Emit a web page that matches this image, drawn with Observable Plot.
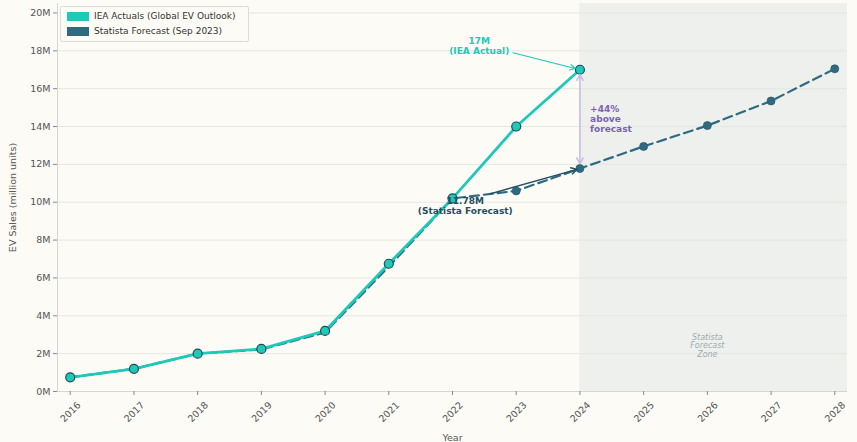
<!DOCTYPE html>
<html><head><meta charset="utf-8">
<script src="https://cdn.jsdelivr.net/npm/d3@7"></script>
<script src="https://cdn.jsdelivr.net/npm/@observablehq/plot@0.6"></script>
<style>
body{margin:0;background:#fcfbf6;font-family:"DejaVu Sans",sans-serif;}
#wrap{position:relative;width:857px;height:442px;}
#legend{position:absolute;left:60px;top:6px;width:187px;height:34px;border:1px solid #dcdcdc;border-radius:2px;background:rgba(252,251,246,0.9);font-size:9px;color:#333;white-space:nowrap;}
.li{position:absolute;left:6px;display:flex;align-items:center;white-space:nowrap;}
.sw{width:22px;height:9px;margin-right:5px;}
</style></head>
<body><div id="wrap"><div id="legend">
<div class="li" style="top:4px"><div class="sw" style="background:#1ec9b7"></div>IEA Actuals (Global EV Outlook)</div>
<div class="li" style="top:19px"><div class="sw" style="background:#2e6a80"></div>Statista Forecast (Sep 2023)</div>
</div></div>
<script>
const actualYears = [2016,2017,2018,2019,2020,2021,2022,2023,2024];
const actualValues = [0.75,1.2,2.0,2.25,3.2,6.75,10.2,14.0,17.0];
const forecastYears = [2016,2017,2018,2019,2020,2021,2022,2023,2024,2025,2026,2027,2028];
const forecastValues = [0.75,1.2,2.0,2.22,3.12,6.6,10.2,10.6,11.78,12.95,14.05,15.35,17.05];
const yTicks = [0,2,4,6,8,10,12,14,16,18,20];
const xTicks = [2016,2017,2018,2019,2020,2021,2022,2023,2024,2025,2026,2027,2028];
const zone = [{x1:2024, x2:2028.2, y1:0, y2:20.5}];
const ieaLabel = [{x:2022.42, y:18.28, text:"17M\n(IEA Actual)"}];
const ieaArrow = [{x1:2022.95, y1:17.9, x2:2024, y2:17.0}];
const statLabel = [{x:2022.2, y:9.8, text:"11.78M\n(Statista Forecast)"}];
const statArrow = [{x1:2022.6, y1:10.45, x2:2024, y2:11.78}];
const gapArrows = [{x1:2024, y1:14.39, x2:2024, y2:17.0},{x1:2024, y1:14.39, x2:2024, y2:11.78}];
const gapLabel = [{x:2024.16, y:14.42, text:"+44%\nabove\nforecast"}];
const zoneLabel = [{x:2026.0, y:2.43, text:"Statista\nForecast\nZone"}];

const actual = actualYears.map((x,i)=>({x, y:actualValues[i]}));
const forecast = forecastYears.map((x,i)=>({x, y:forecastValues[i]}));
const teal = "#1ec9b7", slate = "#2e6a80";

const chart = Plot.plot({
  width: 857, height: 442,
  marginLeft: 57, marginRight: 10, marginTop: 3, marginBottom: 51,
  style: {background: "transparent", fontFamily: "DejaVu Sans, sans-serif", fontSize: "9px", color: "#555"},
  x: {domain: [2015.8, 2028.2]},
  y: {domain: [0, 20.5]},
  marks: [
    Plot.rect(zone, {x1:"x1", x2:"x2", y1:"y1", y2:"y2", fill:"#edf0ec"}),
    Plot.ruleY(yTicks, {stroke:"#e6e6e2", strokeWidth:1}),
    Plot.ruleX([2015.8], {stroke:"#d5d5d5"}),
    Plot.ruleY([0], {stroke:"#d5d5d5"}),
    Plot.axisY({ticks: yTicks, tickFormat: d => d + "M", tickSize: 4, tickPadding: 3, stroke:"#888",
      label: "EV Sales (million units)", labelAnchor: "center", labelOffset: 48, labelArrow: "none", fontSize: 9.5}),
    Plot.axisX({ticks: xTicks, tickSize: 4, tickSpacing: 0, stroke:"#888", text: null, label: null}),
    Plot.axisX({ticks: xTicks, tickFormat: d => String(d), tickSize: 0, tickRotate: -45, tickPadding: 3, dx: 9, dy: 9,
      label: "Year", labelAnchor: "center", labelOffset: 49, labelArrow: "none", fontSize: 9.5}),
    Plot.line(forecast, {x:"x", y:"y", stroke: slate, strokeWidth: 2.2, strokeDasharray: "9,5"}),
    Plot.dot(forecast.filter(d => d.x >= 2023), {x:"x", y:"y", r: 4, fill: slate, stroke: "#2a5f72", strokeWidth: 0.8}),
    Plot.arrow(statArrow, {x1:"x1", y1:"y1", x2:"x2", y2:"y2", stroke:"#234f60", strokeWidth:1.4, bend:false, headLength:7, insetEnd:3}),
    Plot.line(actual, {x:"x", y:"y", stroke: teal, strokeWidth: 2.8}),
    Plot.dot(actual, {x:"x", y:"y", r: 4.5, fill: teal, stroke: "#1f4a58", strokeWidth: 1.2}),
    Plot.arrow(ieaArrow, {x1:"x1", y1:"y1", x2:"x2", y2:"y2", stroke: teal, strokeWidth:1.2, bend:false, headLength:7, insetEnd:5}),
    Plot.arrow(gapArrows, {x1:"x1", y1:"y1", x2:"x2", y2:"y2", stroke:"#c8bde6", strokeWidth:1.6, bend:false, headLength:6, insetEnd:5}),
    Plot.text(ieaLabel, {x:"x", y:"y", text:"text", fill: teal, fontWeight:"bold", fontSize: 9, lineHeight: 1.1}),
    Plot.text(statLabel, {x:"x", y:"y", text:"text", fill: "#234f60", fontWeight:"bold", fontSize: 9, lineHeight: 1.1}),
    Plot.text(gapLabel, {x:"x", y:"y", text:"text", fill: "#7a62b2", fontWeight:"bold", fontSize: 9, textAnchor:"start", lineHeight: 1.1}),
    Plot.text(zoneLabel, {x:"x", y:"y", text:"text", fill: "#9fabb0", fontStyle:"italic", fontSize: 8, lineHeight: 1.05})
  ]
});
document.getElementById("wrap").prepend(chart);
chart.style.position = "absolute"; chart.style.left = "0"; chart.style.top = "0";
</script></body></html>
